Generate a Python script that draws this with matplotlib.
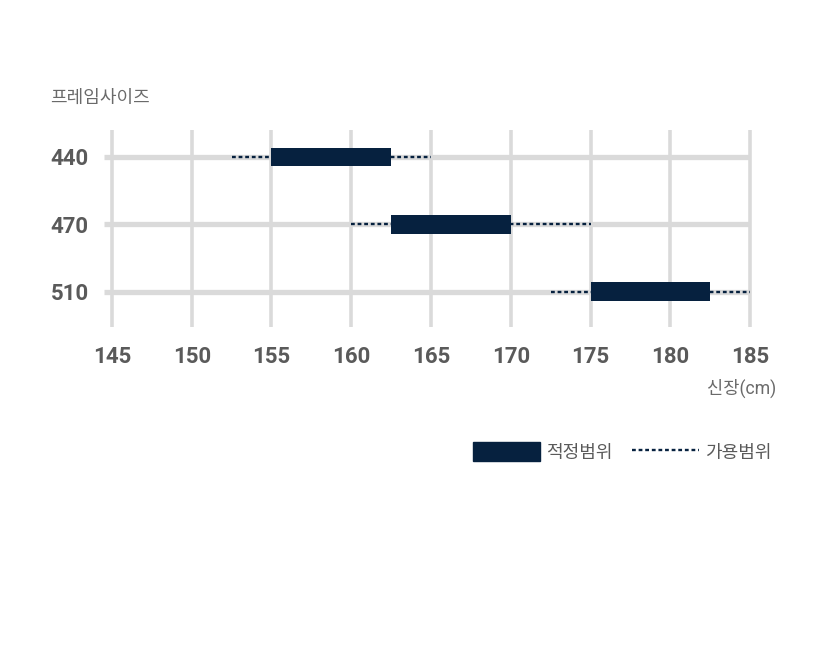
import matplotlib
matplotlib.use('Agg')
import matplotlib.pyplot as plt
from matplotlib.patches import Patch
from matplotlib.lines import Line2D

plt.rcParams['font.family'] = ['Roboto', 'Noto Sans CJK KR', 'DejaVu Sans']

# frame sizes and height ranges (cm)
sizes = ['440', '470', '510']
fit_lo = [155, 162.5, 175]
fit_hi = [162.5, 170, 182.5]
ok_lo = [152.5, 160, 172.5]
ok_hi = [165, 175, 185]
x_ticks = [145, 150, 155, 160, 165, 170, 175, 180, 185]

navy = '#06213f'
grid = '#dadada'
txt = '#5a5a5a'
dots = (0, (1.6, 1.2))

fig = plt.figure(figsize=(8.25, 6.5), dpi=100)
ax = fig.add_axes([104 / 825, 1 - 327 / 650, 650 / 825, 197 / 650])
ax.set_xlim(144.5, 185.25)
ax.set_ylim(2.52, -0.4)

rows = list(range(len(sizes)))

# grid
ax.vlines(x_ticks, -0.4, 2.52, color=grid, lw=2.6, zorder=1)
ax.hlines(rows, 144.5, 185, color=grid, lw=3.8, zorder=1)

# allowable range (dotted) and proper range (bars)
for i in rows:
    ax.plot([ok_lo[i], ok_hi[i]], [i, i], color=navy, lw=1.7,
            linestyle=dots, zorder=2)
widths = [h - l for l, h in zip(fit_lo, fit_hi)]
ax.barh(rows, widths, left=fit_lo, height=0.28, color=navy, zorder=3)

for s in ax.spines.values():
    s.set_visible(False)
ax.set_xticks(x_ticks)
ax.set_xticklabels([str(t) for t in x_ticks])
ax.set_yticks(rows)
ax.set_yticklabels(sizes)
ax.tick_params(length=0, labelsize=16, labelcolor=txt)
ax.tick_params(axis='x', pad=14)
ax.tick_params(axis='y', pad=11)
for lab in ax.get_xticklabels() + ax.get_yticklabels():
    lab.set_fontweight('bold')

fig.text(50 / 825, 1 - 98 / 650, '프레임사이즈', fontsize=13, color='#6a6a6a',
         ha='left', va='center')
fig.text(776 / 825, 1 - 388 / 650, '신장(cm)', fontsize=12.7, color='#6a6a6a',
         ha='right', va='center')

handles = [Patch(facecolor=navy, edgecolor=navy),
           Line2D([], [], color=navy, lw=1.7, linestyle=dots)]
fig.legend(handles, ['적정범위', '가용범위'], loc='center right',
           bbox_to_anchor=(772 / 825, 1 - 452 / 650), ncol=2, frameon=False,
           fontsize=13, labelcolor='#5a5a5a', handlelength=3.7,
           handleheight=1.2, handletextpad=0.35, columnspacing=1.1,
           borderpad=0, borderaxespad=0)

fig.savefig('out.png', dpi=100)
